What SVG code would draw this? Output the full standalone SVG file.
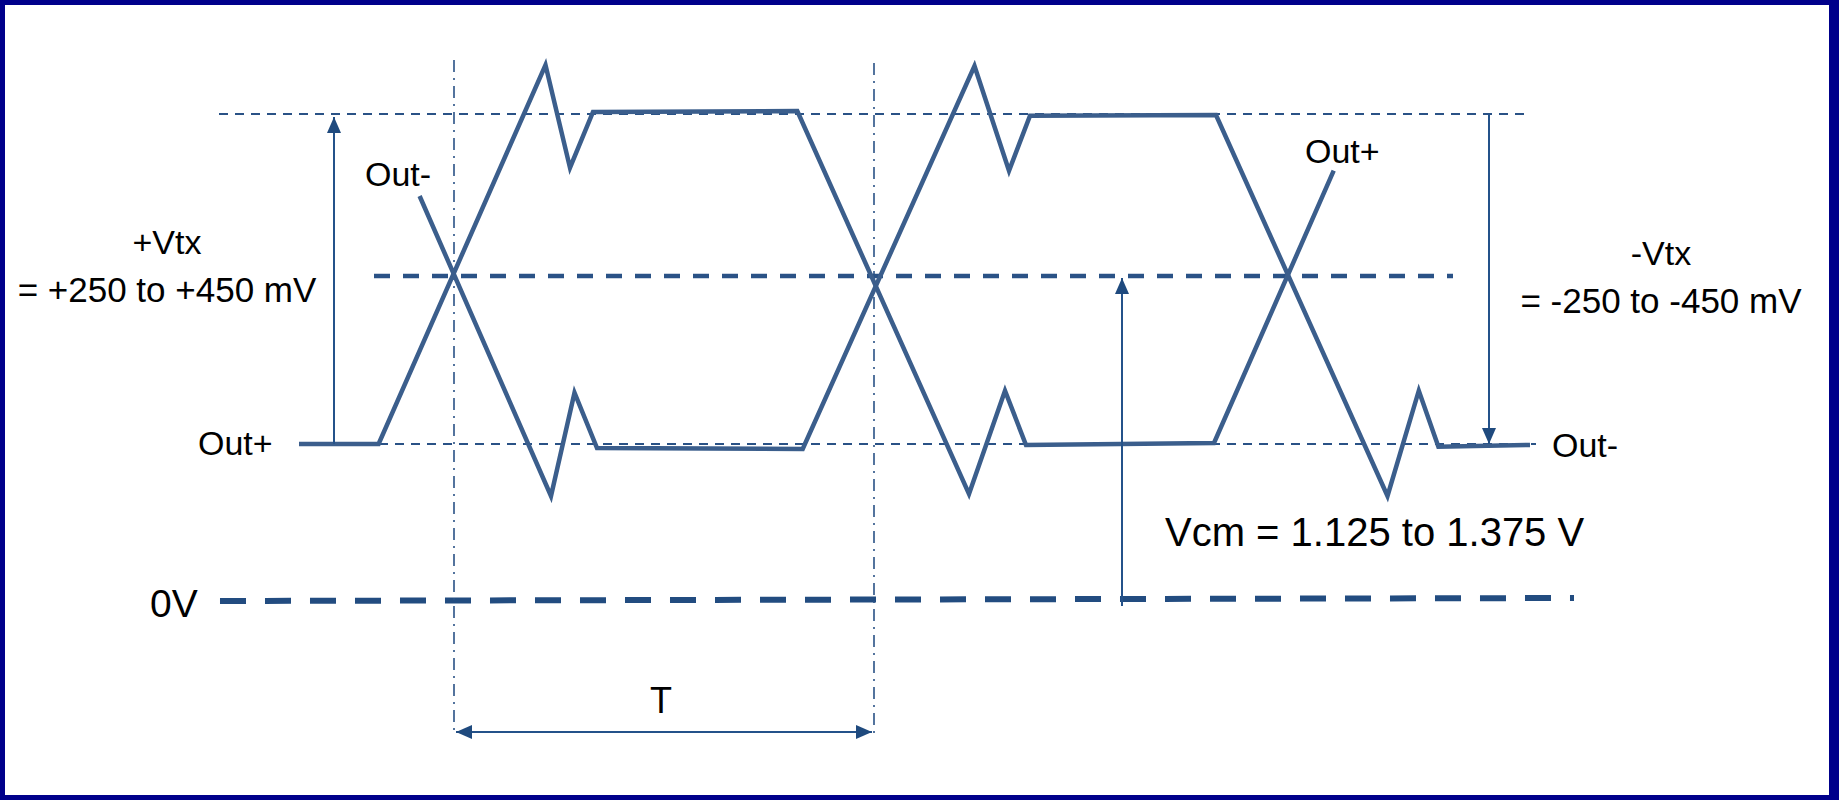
<svg xmlns="http://www.w3.org/2000/svg" width="1839" height="800" viewBox="0 0 1839 800">
<style>
.txt{font-family:"Liberation Sans",Arial,sans-serif;fill:#000}
.thin{stroke:#2A5286;stroke-width:2;stroke-dasharray:9 7;fill:none}
.mid{stroke:#2A5286;stroke-width:4.5;stroke-dasharray:16 13;fill:none}
.zero{stroke:#224C80;stroke-width:6;stroke-dasharray:26 19;fill:none}
.dashdot{stroke:#2A5286;stroke-width:1.6;stroke-dasharray:12 6 2 6;fill:none}
.wave{stroke:#3B5E8C;stroke-width:4.5;fill:none;stroke-linejoin:miter}
.arr{stroke:#24528A;stroke-width:2;fill:none}
</style>
<defs>
<marker id="ah" markerUnits="userSpaceOnUse" markerWidth="18" markerHeight="16" refX="16" refY="7" orient="auto-start-reverse">
<path d="M0,0 L16,7 L0,14 z" fill="#1F4A7E"/>
</marker>
</defs>
<rect x="2.5" y="2.5" width="1830" height="795" fill="#fff" stroke="#00008B" stroke-width="5"/>
<rect x="1829" y="0" width="10" height="800" fill="#00008B"/>
<g id="guides">
<line class="thin" x1="219" y1="114" x2="1530" y2="114"/>
<line class="thin" x1="299" y1="444" x2="1536" y2="444"/>
<line class="mid" x1="374" y1="276" x2="1453" y2="276"/>
<line class="zero" x1="220" y1="601" x2="1574" y2="598"/>
<line class="dashdot" x1="454" y1="60" x2="454" y2="733"/>
<line class="dashdot" x1="874" y1="63" x2="874" y2="733"/>
</g>
<g id="waveforms">
<polyline id="wave-outplus" class="wave" points="299,444 378.6,444 545.5,65 570,167.7 593,112 797.3,111 969,494 1005,390.7 1026,445 1214,443 1333.7,170.7"/>
<polyline id="wave-outminus" class="wave" points="419.6,196 551,496 574.5,392.7 597,448 802.7,449 974.5,66 1009,170.7 1030,115.7 1216,115 1387.5,496 1418.8,390.7 1438.4,446.7 1530,445"/>
</g>
<g id="connectors">
<line class="arr" x1="334" y1="444" x2="334" y2="117" marker-end="url(#ah)"/>
<line class="arr" x1="1489" y1="114" x2="1489" y2="444" marker-end="url(#ah)"/>
<line class="arr" x1="1122" y1="606" x2="1122" y2="278" marker-end="url(#ah)"/>
<line class="arr" x1="456" y1="732" x2="872" y2="732" stroke-width="2.5" marker-start="url(#ah)" marker-end="url(#ah)"/>
</g>
<g id="labels">
<text class="txt" x="167" y="254" font-size="34" text-anchor="middle">+Vtx</text>
<text class="txt" x="167" y="302" font-size="35" text-anchor="middle">= +250 to +450 mV</text>
<text class="txt" x="365" y="186" font-size="34">Out-</text>
<text class="txt" x="198" y="455" font-size="34">Out+</text>
<text class="txt" x="1305" y="163" font-size="34">Out+</text>
<text class="txt" x="1661" y="265" font-size="34" text-anchor="middle">-Vtx</text>
<text class="txt" x="1661" y="313" font-size="35" text-anchor="middle">= -250 to -450 mV</text>
<text class="txt" x="1552" y="457" font-size="34">Out-</text>
<text class="txt" x="150" y="617" font-size="39">0V</text>
<text class="txt" x="661" y="713" font-size="36" text-anchor="middle">T</text>
<text class="txt" x="1165" y="546" font-size="40">Vcm = 1.125 to 1.375 V</text>
</g>
</svg>
